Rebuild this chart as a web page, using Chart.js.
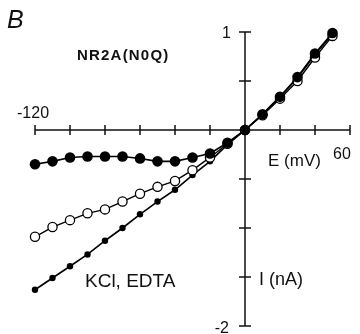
<!DOCTYPE html>
<html>
<head>
  <meta charset="UTF-8" />
  <title>NR2A(N0Q) I-V</title>
  <script src="https://cdn.jsdelivr.net/npm/chart.js"></script>
  <style>
    body { margin: 0; background: #fff; }
    #wrap { width: 360px; height: 334px; }
  </style>
</head>
<body>
  <div id="wrap"><canvas id="iv" width="360" height="334"></canvas></div>

  <script>
    // membrane potential (mV), one point every 10 mV
    const voltage = [-120, -110, -100, -90, -80, -70, -60, -50, -40, -30, -20, -10, 0, 10, 20, 30, 40, 50];
    // current (nA)
    const iControl = [-0.35, -0.32, -0.28, -0.27, -0.27, -0.27, -0.29, -0.32, -0.32, -0.28, -0.24, -0.13, 0, 0.16, 0.34, 0.54, 0.78, 0.99];
    const iOpen = [-1.09, -0.99, -0.92, -0.85, -0.81, -0.73, -0.65, -0.58, -0.52, -0.41, -0.28, -0.14, 0, 0.15, 0.32, 0.50, 0.74, 0.96];
    const iKclEdta = [-1.63, -1.51, -1.39, -1.27, -1.13, -1.00, -0.86, -0.73, -0.61, -0.46, -0.32, -0.15, 0, 0.16, 0.34, 0.53, 0.77, 0.98];

    const xTicks = [-120, -100, -80, -60, -40, -20, 0, 20, 40, 60];
    const yTicks = [-2, -1.5, -1, -0.5, 0, 0.5, 1];

    const pts = arr => voltage.map((v, i) => ({ x: v, y: arr[i] }));

    // draws the crossing axes and the labels
    const axesPlugin = {
      id: 'axes',
      beforeDatasetsDraw(chart) {
        const ctx = chart.ctx, xs = chart.scales.x, ys = chart.scales.y;
        const x0 = xs.getPixelForValue(0), y0 = ys.getPixelForValue(0);
        ctx.save();
        ctx.strokeStyle = '#111';
        ctx.lineWidth = 1.5;
        ctx.beginPath();
        ctx.moveTo(xs.getPixelForValue(-120), y0);
        ctx.lineTo(xs.getPixelForValue(60), y0);
        ctx.moveTo(x0, ys.getPixelForValue(1));
        ctx.lineTo(x0, ys.getPixelForValue(-2));
        xTicks.forEach(t => {
          const px = xs.getPixelForValue(t);
          ctx.moveTo(px, y0 - 5);
          ctx.lineTo(px, y0 + 5);
        });
        yTicks.forEach(t => {
          const py = ys.getPixelForValue(t);
          ctx.moveTo(x0 - 6, py);
          ctx.lineTo(x0 + 6, py);
        });
        ctx.stroke();

        ctx.fillStyle = '#111';
        ctx.textBaseline = 'alphabetic';
        ctx.font = 'italic 25px "Liberation Sans", Arial, sans-serif';
        ctx.fillText('B', 7, 28);
        ctx.font = 'bold 15px "Liberation Sans", Arial, sans-serif';
        ctx.letterSpacing = '1.2px';
        ctx.fillText('NR2A(N0Q)', 77, 60);
        ctx.letterSpacing = '0px';
        ctx.font = '16px "Liberation Sans", Arial, sans-serif';
        ctx.fillText('-120', 17, 118);
        ctx.fillText('60', 333, 159);
        ctx.textAlign = 'right';
        ctx.fillText('1', 231, 38);
        ctx.fillText('-2', 229, 333);
        ctx.textAlign = 'left';
        ctx.font = '17px "Liberation Sans", Arial, sans-serif';
        ctx.fillText('E (mV)', 268, 166);
        ctx.font = '18px "Liberation Sans", Arial, sans-serif';
        ctx.fillText('I (nA)', 259, 285);
        ctx.font = '19px "Liberation Sans", Arial, sans-serif';
        ctx.fillText('KCl, EDTA', 85, 287);
        ctx.restore();
      }
    };

    new Chart(document.getElementById('iv'), {
      type: 'scatter',
      data: {
        datasets: [
          {
            label: 'NR2A(N0Q)', data: pts(iControl), showLine: true, order: 1,
            borderColor: '#000', backgroundColor: '#000', borderWidth: 1.6,
            pointRadius: 5.3, pointBorderWidth: 0, clip: false
          },
          {
            label: 'open', data: pts(iOpen), showLine: true, order: 2,
            borderColor: '#000', backgroundColor: '#fff', borderWidth: 1.4,
            pointRadius: 4.6, pointBorderWidth: 1.3, clip: false
          },
          {
            label: 'KCl, EDTA', data: pts(iKclEdta), showLine: true, order: 3,
            borderColor: '#000', backgroundColor: '#000', borderWidth: 1.6,
            pointRadius: 3.2, pointBorderWidth: 0, clip: false
          }
        ]
      },
      options: {
        responsive: false,
        animation: false,
        layout: { padding: { left: 35, right: 10, top: 32, bottom: 8 } },
        plugins: { legend: { display: false }, tooltip: { enabled: false } },
        scales: {
          x: { type: 'linear', min: -120, max: 60, display: false },
          y: { type: 'linear', min: -2, max: 1, display: false }
        }
      },
      plugins: [axesPlugin]
    });
  </script>
</body>
</html>
